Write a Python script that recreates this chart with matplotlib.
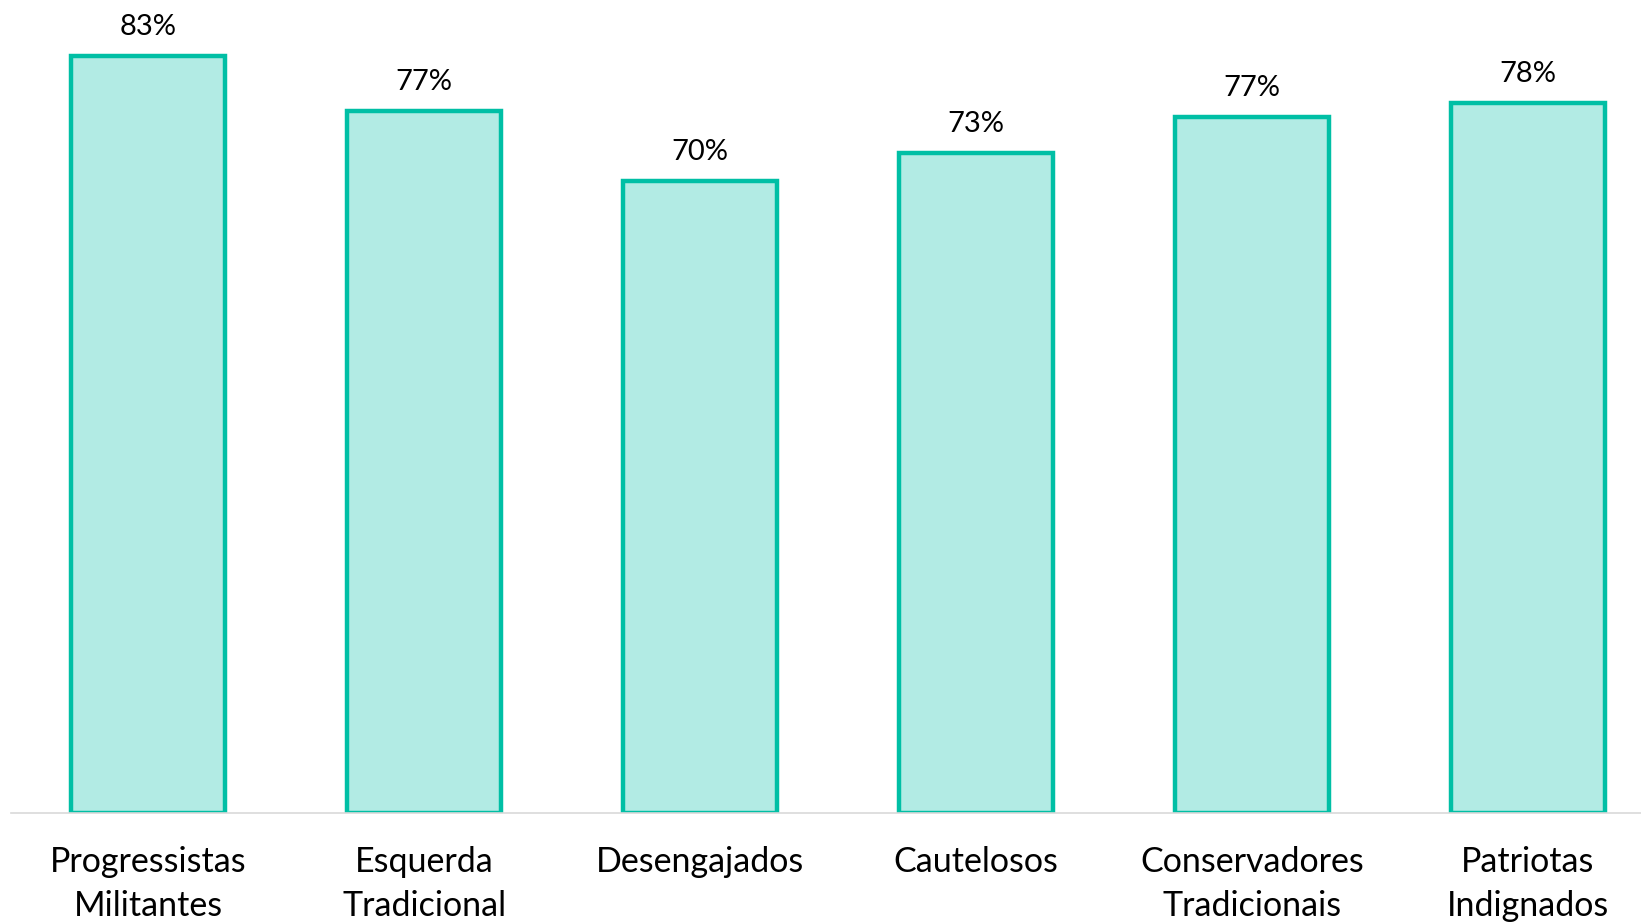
import matplotlib
matplotlib.use("Agg")
import matplotlib.pyplot as plt

categories = ["Progressistas\nMilitantes", "Esquerda\nTradicional", "Desengajados",
              "Cautelosos", "Conservadores\nTradicionais", "Patriotas\nIndignados"]
values = [83.0, 77.0, 69.3, 72.4, 76.3, 77.9]
labels = ["83%", "77%", "70%", "73%", "77%", "78%"]

plt.rcParams['font.family'] = ['Lato', 'DejaVu Sans']

W, H = 1641, 923
fig = plt.figure(figsize=(W / 100, H / 100), dpi=100)
step = 275.9
ax = fig.add_axes([10.5 / W, (H - 813) / H, 6 * step / W, 775 / H])

x = range(len(categories))
ax.bar(x, values, width=0.558, color="#B2EBE4", edgecolor="#00BFA5", linewidth=3.2, zorder=2)
ax.set_xlim(-0.5, 5.5)
ax.set_ylim(0, 85)

for i, (v, lab) in enumerate(zip(values, labels)):
    ax.annotate(lab, (i, v), xytext=(0, 11.5), textcoords="offset points",
                ha="center", va="bottom", fontsize=21, color="black", annotation_clip=False)

ax.set_xticks(list(x))
ax.set_xticklabels(categories, fontsize=24.5, linespacing=1.45)
ax.tick_params(axis="x", length=0, pad=24)
ax.set_yticks([])
for s in ["top", "right", "left"]:
    ax.spines[s].set_visible(False)
ax.spines["bottom"].set_color("#D9D9D9")
ax.spines["bottom"].set_linewidth(1.2)
ax.spines["bottom"].set_zorder(3)

fig.savefig("out.png", dpi=100)
